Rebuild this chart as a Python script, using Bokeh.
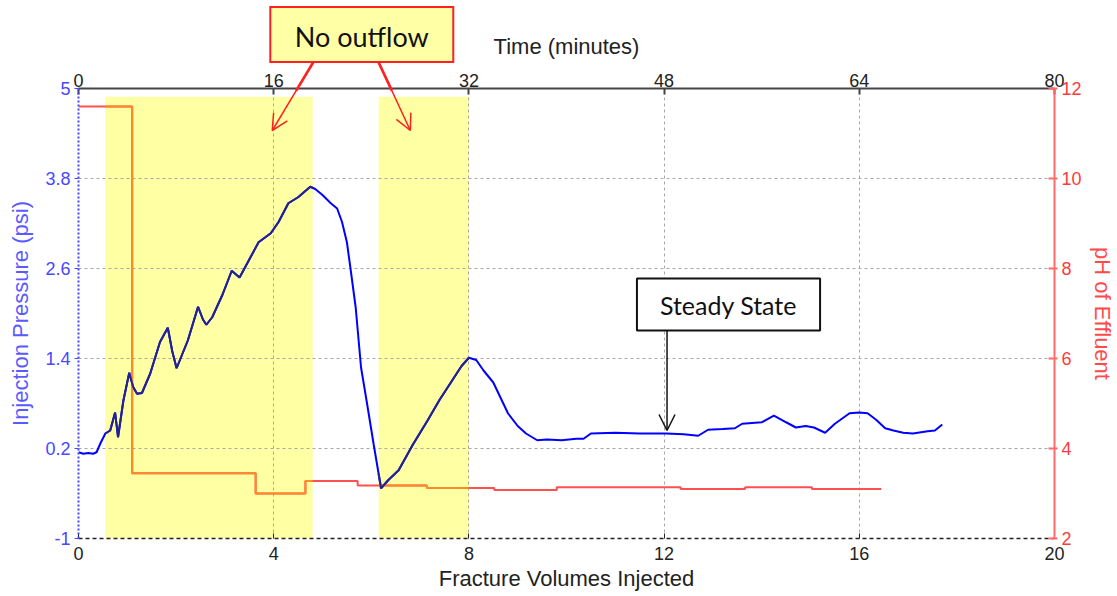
import numpy as np
from bokeh.plotting import figure
from bokeh.models import (Range1d, LinearAxis, FixedTicker, CustomJSTickFormatter,
                          Label, Arrow, OpenHead)
from bokeh.embed import file_html
from bokeh.resources import INLINE

# Injection pressure (psi) against fracture volumes injected
fvi = [0.0, 0.1, 0.2, 0.3, 0.37, 0.45, 0.55, 0.65, 0.75, 0.81, 0.92, 1.04, 1.12, 1.2, 1.3,
       1.47, 1.67, 1.83, 1.92, 2.01, 2.24, 2.45, 2.55, 2.62, 2.74, 2.95, 3.14, 3.3, 3.5,
       3.69, 3.94, 4.1, 4.3, 4.5, 4.75, 4.85, 5.0, 5.17, 5.3, 5.4, 5.5, 5.58, 5.68, 5.79,
       5.9, 6.05, 6.2, 6.35, 6.56, 6.85, 7.15, 7.4, 7.65, 7.85, 8.0, 8.15, 8.3, 8.5, 8.8,
       9.0, 9.17, 9.4, 9.6, 9.9, 10.2, 10.35, 10.5, 11.0, 11.5, 12.04, 12.4, 12.7, 12.9,
       13.2, 13.45, 13.6, 13.8, 14.0, 14.25, 14.5, 14.7, 14.9, 15.07, 15.3, 15.5, 15.8,
       16.0, 16.17, 16.35, 16.53, 16.7, 16.9, 17.1, 17.4, 17.55, 17.7]
pressure = [0.15, 0.13, 0.14, 0.13, 0.15, 0.27, 0.40, 0.44, 0.68, 0.35, 0.84, 1.21, 1.02,
            0.93, 0.94, 1.20, 1.62, 1.81, 1.50, 1.27, 1.64, 2.09, 1.92, 1.85, 1.95, 2.25,
            2.57, 2.48, 2.72, 2.95, 3.07, 3.22, 3.47, 3.55, 3.69, 3.66, 3.58, 3.47, 3.40,
            3.22, 2.95, 2.57, 2.08, 1.28, 0.85, 0.25, -0.33, -0.22, -0.09, 0.25, 0.57, 0.85,
            1.10, 1.30, 1.41, 1.38, 1.24, 1.08, 0.67, 0.50, 0.40, 0.31, 0.32, 0.31, 0.33,
            0.33, 0.40, 0.41, 0.40, 0.40, 0.39, 0.37, 0.45, 0.46, 0.47, 0.53, 0.54, 0.55,
            0.64, 0.55, 0.48, 0.50, 0.48, 0.41, 0.53, 0.67, 0.68, 0.67, 0.58, 0.47, 0.44,
            0.41, 0.40, 0.43, 0.44, 0.52]

# Effluent pH, held constant between the sample edges
ph_edges = [0.0, 1.1, 3.63, 4.65, 5.72, 7.14, 8.52, 9.8, 12.34, 13.66, 15.03, 16.45]
ph_values = [11.6, 3.45, 3.0, 3.28, 3.18, 3.12, 3.08, 3.14, 3.1, 3.14, 3.1]

# Periods with no outflow (fracture volumes)
noflow_start = [0.55, 6.15]
noflow_end = [4.8, 8.0]
noflow_top = 4.89

x_ticks = [0, 4, 8, 12, 16, 20]
time_ticks = [0, 16, 32, 48, 64, 80]
p_ticks = [-1, 0.2, 1.4, 2.6, 3.8, 5]
ph_ticks = [2, 4, 6, 8, 10, 12]

BLUE = "#0000FF"
BLUE_ON_YELLOW = "#23238E"
RED = "#FF5050"
RED_ON_YELLOW = "#FF8A2A"
YELLOW = "#FFFFA3"
AXIS_BLUE = "#4848FF"
AXIS_RED = "#FF3A3A"
CALLOUT_RED = "#FF2020"
FONT = "Liberation Sans"

FRAME_W, FRAME_H = 982, 450
X0, X1, Y0, Y1 = 0, 20, -1, 5
PX_X = FRAME_W / (X1 - X0)   # pixels per fracture volume
PX_Y = FRAME_H / (Y1 - Y0)   # pixels per psi

p = figure(width=1117, height=596, output_backend="svg", toolbar_location=None,
           x_range=Range1d(X0, X1), y_range=Range1d(Y0, Y1),
           min_border_left=78, min_border_right=57, min_border_top=88,
           min_border_bottom=58)
p.outline_line_color = None
p.background_fill_color = "white"
p.extra_x_ranges = {"time": Range1d(0, 80)}
p.extra_y_ranges = {"ph": Range1d(2, 12)}

# shaded no-outflow periods (below the grid)
p.quad(left=noflow_start, right=noflow_end, bottom=[Y0] * len(noflow_start),
       top=[noflow_top] * len(noflow_start), fill_color=YELLOW, line_color=None,
       level="image")

# step polyline for pH
ph_x, ph_y = [], []
for i, v in enumerate(ph_values):
    ph_x += [ph_edges[i], ph_edges[i + 1]]
    ph_y += [v, v]


def clip(xs, ys, a, b):
    xs = list(xs)
    ys = list(ys)
    b = min(b, xs[-1])
    inner = [(x, y) for x, y in zip(xs, ys) if a < x < b]
    cx = [a] + [q[0] for q in inner] + [b]
    cy = [float(np.interp(a, xs, ys))] + [q[1] for q in inner] + [float(np.interp(b, xs, ys))]
    return cx, cy


p.line(ph_x, ph_y, y_range_name="ph", line_color=RED, line_width=2)
p.line(fvi, pressure, line_color=BLUE, line_width=2)
for a, b in zip(noflow_start, noflow_end):
    cx, cy = clip(ph_x, ph_y, a, b)
    p.line(cx, cy, y_range_name="ph", line_color=RED_ON_YELLOW, line_width=2)
    cx, cy = clip(fvi, pressure, a, b)
    p.line(cx, cy, line_color=BLUE_ON_YELLOW, line_width=2)

# grid
for g in (p.xgrid, p.ygrid):
    g.grid_line_color = "#A8A8A8"
    g.grid_line_dash = "3 3"
    g.grid_line_width = 1
p.xgrid.ticker = FixedTicker(ticks=x_ticks)
p.ygrid.ticker = FixedTicker(ticks=p_ticks)

# bottom axis
xa = p.xaxis[0]
xa.ticker = FixedTicker(ticks=x_ticks)
xa.axis_label = "Fracture Volumes Injected"
xa.axis_line_color = "#222222"
xa.axis_line_dash = "4 3"
xa.axis_line_width = 1.5
xa.major_tick_in = 5
xa.major_tick_out = 0
xa.major_tick_line_color = "#222222"
xa.minor_tick_line_color = None
xa.major_label_standoff = 8
xa.axis_label_standoff = 3

# left axis
ya = p.yaxis[0]
ya.ticker = FixedTicker(ticks=p_ticks)
ya.formatter = CustomJSTickFormatter(code="return Number(tick.toFixed(1)).toString()")
ya.axis_label = "Injection Pressure (psi)"
ya.axis_line_color = AXIS_BLUE
ya.axis_line_dash = "2 2"
ya.axis_line_width = 2
ya.major_tick_in = 0
ya.major_tick_out = 4
ya.major_tick_line_color = AXIS_BLUE
ya.minor_tick_line_color = None
ya.major_label_standoff = 4
ya.axis_label_standoff = 9
ya.major_label_text_color = AXIS_BLUE
ya.axis_label_text_color = "#5A5AFF"

# top axis: elapsed time (its title is a label in the same margin, see below)
ta = LinearAxis(x_range_name="time", ticker=FixedTicker(ticks=time_ticks))
ta.axis_line_color = "#444444"
ta.axis_line_width = 2
ta.major_tick_in = 6
ta.major_tick_out = 0
ta.major_tick_line_color = "#444444"
ta.major_tick_line_width = 2
ta.minor_tick_line_color = None
ta.major_label_standoff = 2
p.add_layout(ta, "above")

# right axis: pH
ra = LinearAxis(y_range_name="ph", ticker=FixedTicker(ticks=ph_ticks),
                axis_label="pH of Effluent")
ra.axis_line_color = "#FF6A6A"
ra.axis_line_width = 2
ra.major_tick_in = 6
ra.major_tick_out = 3
ra.major_tick_line_color = "#FF6A6A"
ra.major_tick_line_width = 2
ra.minor_tick_line_color = None
ra.major_label_standoff = 4
ra.axis_label_standoff = 5
ra.major_label_text_color = AXIS_RED
ra.axis_label_text_color = "#FF4A4A"
p.add_layout(ra, "right")

for ax in (xa, ya, ta, ra):
    ax.major_label_text_font = FONT
    ax.major_label_text_font_size = "18px"
    ax.axis_label_text_font = FONT
    ax.axis_label_text_font_size = "22px"
    ax.axis_label_text_font_style = "normal"
for ax in (xa, ta):
    ax.major_label_text_color = "#222222"
    ax.axis_label_text_color = "#222222"


def px_y(py):
    """Data y (psi) of a canvas row, for placing things in the top margin."""
    return Y0 + (88 + FRAME_H - py) / PX_Y


def flat_text(x, y_top, text, font, size, color):
    """Margin text whose second, empty line folds back so it takes no margin height."""
    return Label(x=x, y=y_top, text=text + "\n", text_font=font, text_font_size=size,
                 text_color=color, text_align="center", text_baseline="top",
                 text_line_height=-1.0)


def stroke_bar(x, y, length_px, thickness_px, color, angle=0.0):
    """A flat bar drawn as the (thick) border of an almost empty label box.

    Labels placed in the top margin panel are not clipped to the plot area, so
    the callout frame and arrow shafts that reach into the margin use this.
    """
    n = max(int(round(length_px - thickness_px)), 1)
    return Label(x=x, y=y, text="\u2003" * n, text_font_size="1px", text_color=color,
                 text_align="center", text_baseline="middle", angle=angle,
                 border_line_color=color, border_line_width=thickness_px,
                 border_line_join="miter", background_fill_color=color)


# "No outflow" callout box (red frame, pale yellow inside), in the top margin
box_left, box_right, box_top, box_bottom = 3.93, 7.68, 6.09, 5.35
box_cx = (box_left + box_right) / 2
box_cy = (box_top + box_bottom) / 2
box_w = (box_right - box_left) * PX_X
box_h = (box_top - box_bottom) * PX_Y
p.add_layout(stroke_bar(box_cx, box_cy, box_w - box_h + 56, 56, CALLOUT_RED), "above")
p.add_layout(stroke_bar(box_cx, box_cy, box_w - box_h + 52, 52, "#FFFFA6"), "above")

# arrows from the box down into the shaded periods; the part above the plot
# area is a thin bar in the margin, the rest (with the head) a regular arrow
arrow_x_start = [4.81, 6.15]
arrow_x_end = [3.97, 6.80]
arrow_y_start, arrow_y_end = 5.35, 4.44
y_cut = px_y(90)
for xs, xe in zip(arrow_x_start, arrow_x_end):
    t = (arrow_y_start - y_cut) / (arrow_y_start - arrow_y_end)
    xc = xs + t * (xe - xs)
    dx = (xc - xs) * PX_X
    dy = (y_cut - arrow_y_start) * PX_Y
    length = float(np.hypot(dx, dy))
    ang = float(np.arctan2(dy, dx))
    if ang < -np.pi / 2:
        ang += np.pi
    p.add_layout(stroke_bar((xs + xc) / 2, (arrow_y_start + y_cut) / 2,
                            length, 1.5, CALLOUT_RED, angle=ang), "above")
    p.add_layout(Arrow(x_start=xs, y_start=arrow_y_start, x_end=xe, y_end=arrow_y_end,
                       line_color=CALLOUT_RED, line_width=1.5,
                       end=OpenHead(size=16, line_color=CALLOUT_RED, line_width=1.5)))

p.add_layout(flat_text(box_cx, px_y(19), "No outflow", "Lato", "27px", "#111111"), "above")
p.add_layout(flat_text((X0 + X1) / 2, px_y(33), "Time (minutes)", FONT, "22px", "#222222"),
             "above")

# "Steady State" callout inside the plot area
p.add_layout(Label(x=13.32, y=2.12, text="Steady State", text_align="center",
                   text_baseline="middle", text_font="Lato", text_font_size="25px",
                   text_color="#111111", background_fill_color="white",
                   border_line_color="#111111", border_line_width=2,
                   padding=dict(left=23, right=23, top=11, bottom=11)))
p.add_layout(Arrow(x_start=12.06, y_start=1.77, x_end=12.06, y_end=0.44,
                   line_color="#111111", line_width=1.5,
                   end=OpenHead(size=16, line_color="#111111", line_width=1.5)))

open("out.html", "w").write(file_html(p, INLINE))
